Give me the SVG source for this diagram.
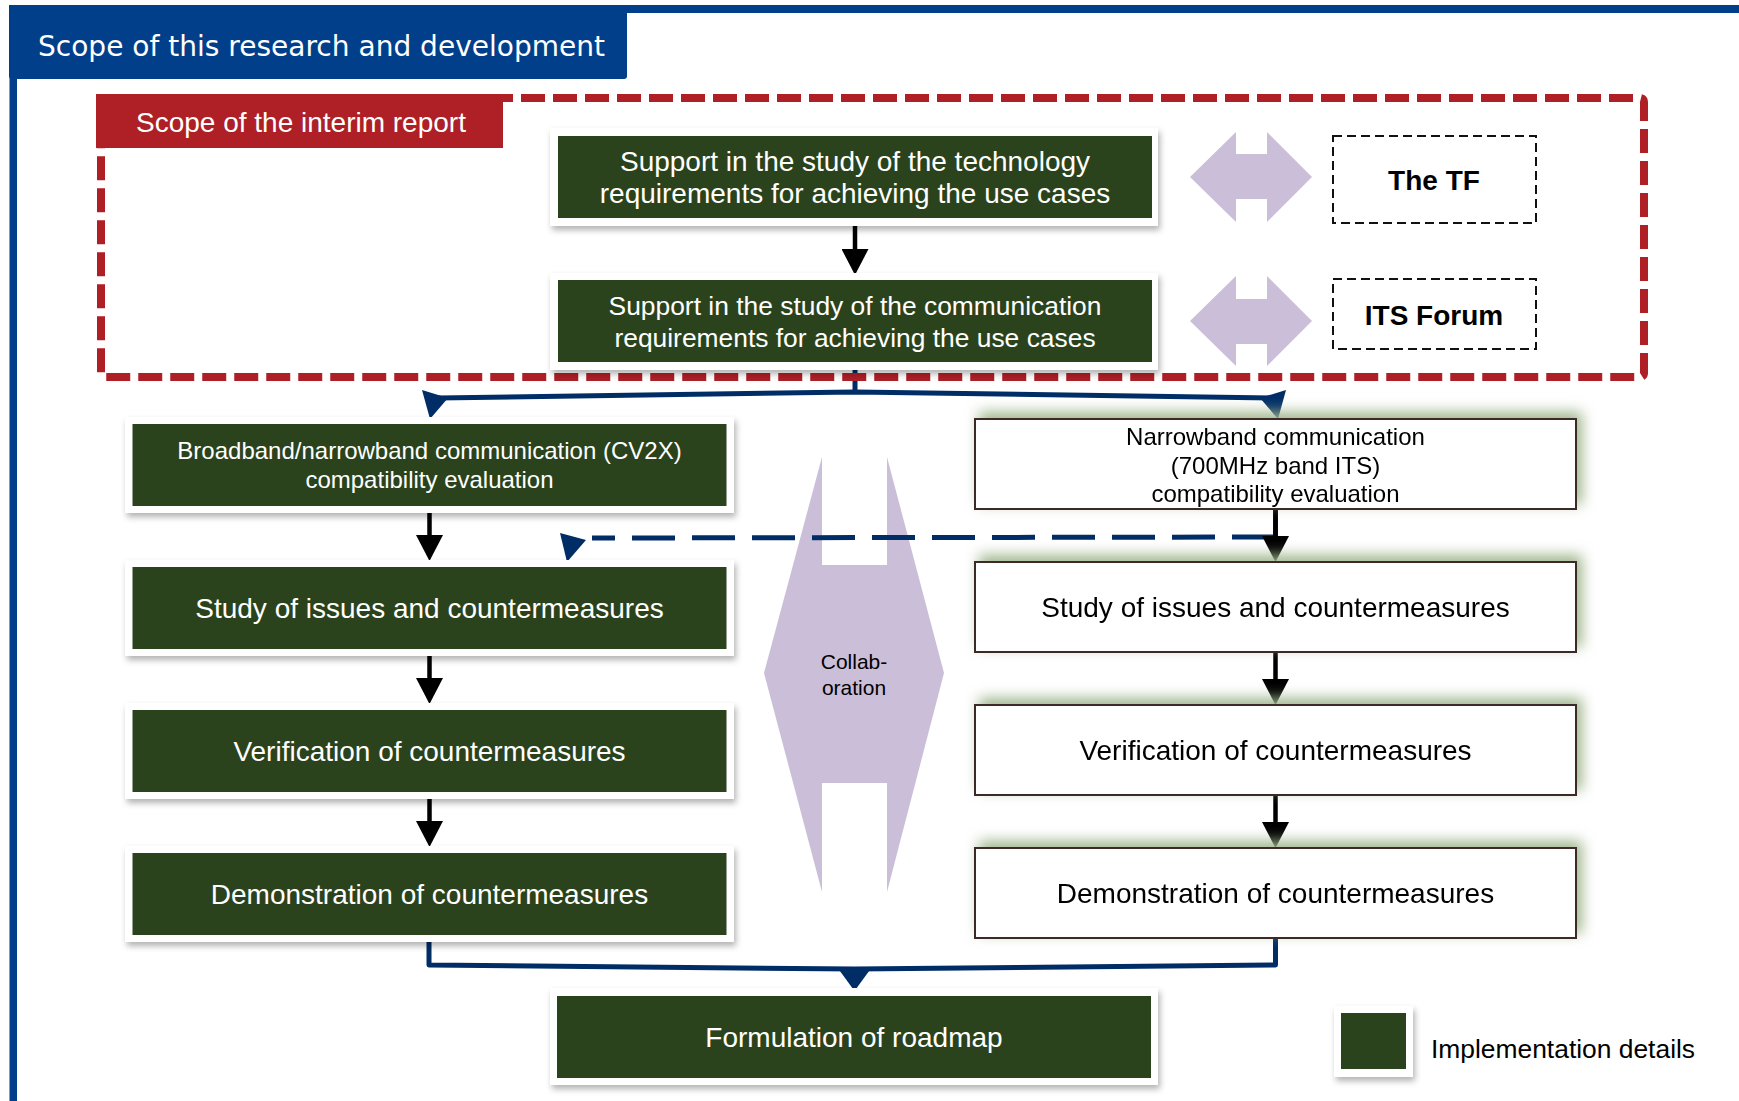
<svg xmlns="http://www.w3.org/2000/svg" width="1739" height="1101" viewBox="0 0 1739 1101">
<defs>
<style>
.frame{fill:#fff;filter:url(#sh)}
.g{fill:#2B431C}
.w{fill:#fff;stroke:#3a2a26;stroke-width:2}
.wt{font-family:"Liberation Sans",Arial,sans-serif;fill:#fff;text-anchor:middle}
.bt{font-family:"Liberation Sans",Arial,sans-serif;fill:#000;text-anchor:middle}
.f28{font-size:28px}
.f24{font-size:24px}
.blk{stroke:#000;stroke-width:4.5;fill:none;marker-end:url(#ah)}
.navy{stroke:#002D66;stroke-width:5;fill:none;stroke-linejoin:round}
.lav{fill:#CBBED8}
.dbox{fill:#fff;stroke:#111;stroke-width:2;stroke-dasharray:9 5}
</style>
<filter id="sh" x="-10%" y="-20%" width="120%" height="150%">
<feDropShadow dx="2" dy="4" stdDeviation="3" flood-color="#000" flood-opacity="0.3"/>
</filter>
<filter id="gl" x="-10%" y="-40%" width="125%" height="180%">
<feFlood flood-color="#9fb58c" result="c"/>
<feComposite in="c" in2="SourceAlpha" operator="in" result="s"/>
<feGaussianBlur in="s" stdDeviation="7" result="b"/>
<feOffset in="b" dx="5" dy="-6" result="o"/>
<feMerge><feMergeNode in="o"/><feMergeNode in="SourceGraphic"/></feMerge>
</filter>
<marker id="ah" viewBox="0 0 26 27" refX="0" refY="13.5" markerWidth="26" markerHeight="27" markerUnits="userSpaceOnUse" orient="auto">
<path d="M0,0 L26,13.5 L0,27 z" fill="#000"/>
</marker>
</defs>
<rect width="1739" height="1101" fill="#fff"/>

<g id="outer-frame">
<rect x="9" y="5" width="1730" height="8" fill="#023F8B"/>
<rect x="9.5" y="5" width="7.5" height="1096" fill="#023F8B"/>
<rect x="9" y="5" width="618" height="74" rx="3" fill="#023F8B"/>
<text x="38" y="56" font-family="DejaVu Sans, Verdana, sans-serif" font-size="28" fill="#fff" textLength="567" lengthAdjust="spacingAndGlyphs">Scope of this research and development</text>
</g>

<g id="collaboration">
<polygon class="lav" points="822,457 764,673 822,892 822,783 887,783 887,892 944,673 887,457 887,565 822,565"/>
<text class="bt" x="854" y="669" font-size="21">Collab-</text>
<text class="bt" x="854" y="695" font-size="21">oration</text>
</g>

<g id="connectors">
<line class="blk" x1="855" y1="222" x2="855" y2="249"/>
<polyline class="navy" points="855,363 855,393"/>
<path class="navy" d="M438,398 L855,392 L1272,398"/>
<polygon points="422,390 448,398 430,419" fill="#002D66"/>
<polygon points="1286,390 1260,398 1278,419" fill="#002D66"/>
<line class="blk" x1="429.5" y1="508" x2="429.5" y2="535"/>
<line class="blk" x1="429.5" y1="651" x2="429.5" y2="678"/>
<line class="blk" x1="429.5" y1="794" x2="429.5" y2="821"/>
<line class="navy" x1="1275.5" y1="509" x2="1275.5" y2="537"/>
<path class="navy" d="M1275,537 L592,538" stroke-dasharray="43 17"/>
<polygon points="560,533 586,540 567,562" fill="#002D66"/>
<line class="blk" x1="1275.5" y1="510" x2="1275.5" y2="536"/>
<line class="blk" x1="1275.5" y1="653" x2="1275.5" y2="679"/>
<line class="blk" x1="1275.5" y1="796" x2="1275.5" y2="822"/>
<path class="navy" d="M429,937 L429,965 L855,969 L1275.5,965 L1275.5,937"/>
<polygon points="837,967 872,967 854.5,991" fill="#002D66"/>
</g>

<g id="interim-scope">
<rect x="101" y="98" width="1543" height="279" rx="4" fill="none" stroke="#AE1F26" stroke-width="8" stroke-dasharray="24 8"/>
<rect x="96" y="94" width="407" height="54" fill="#AE1F26"/>
<text x="136" y="132" font-family="Liberation Sans, Arial, sans-serif" font-size="28" fill="#fff">Scope of the interim report</text>
</g>

<g id="tech-req">
<rect class="frame" x="550" y="128" width="608" height="98"/>
<rect class="g" x="558" y="136" width="594" height="82"/>
<text class="wt f28" x="855" y="171">Support in the study of the technology</text>
<text class="wt f28" x="855" y="203">requirements for achieving the use cases</text>
</g>

<g id="comm-req">
<rect class="frame" x="550" y="273" width="608" height="97"/>
<rect class="g" x="558" y="280" width="594" height="82"/>
<text class="wt" x="855" y="315" font-size="26.4">Support in the study of the communication</text>
<text class="wt" x="855" y="347" font-size="26.4">requirements for achieving the use cases</text>
</g>

<g id="tf-arrow"><polygon class="lav" points="1190,177 1236,132 1236,154 1267,154 1267,132 1312,177 1267,222 1267,199 1236,199 1236,222"/></g>
<g id="its-arrow"><polygon class="lav" points="1190,321 1236,276 1236,299 1267,299 1267,276 1312,321 1267,366 1267,344 1236,344 1236,366"/></g>

<g id="the-tf">
<rect class="dbox" x="1333" y="136" width="203" height="87"/>
<text class="bt" x="1434" y="190" font-size="28" font-weight="bold">The TF</text>
</g>
<g id="its-forum">
<rect class="dbox" x="1333" y="279" width="203" height="70"/>
<text class="bt" x="1434" y="325" font-size="28" font-weight="bold">ITS Forum</text>
</g>

<g id="left-eval">
<rect class="frame" x="125" y="417" width="609" height="96"/>
<rect class="g" x="132.5" y="424" width="594" height="82"/>
<text class="wt f24" x="429.5" y="459">Broadband/narrowband communication (CV2X)</text>
<text class="wt f24" x="429.5" y="488">compatibility evaluation</text>
</g>
<g id="left-study">
<rect class="frame" x="125" y="560" width="609" height="96"/>
<rect class="g" x="132.5" y="567" width="594" height="82"/>
<text class="wt f28" x="429.5" y="618">Study of issues and countermeasures</text>
</g>
<g id="left-verify">
<rect class="frame" x="125" y="703" width="609" height="96"/>
<rect class="g" x="132.5" y="710" width="594" height="82"/>
<text class="wt f28" x="429.5" y="761">Verification of countermeasures</text>
</g>
<g id="left-demo">
<rect class="frame" x="125" y="846" width="609" height="96"/>
<rect class="g" x="132.5" y="853" width="594" height="82"/>
<text class="wt f28" x="429.5" y="904">Demonstration of countermeasures</text>
</g>

<g id="right-eval" filter="url(#gl)">
<rect class="w" x="975" y="419" width="601" height="90"/>
<text class="bt f24" x="1275.5" y="445">Narrowband communication</text>
<text class="bt f24" x="1275.5" y="474">(700MHz band ITS)</text>
<text class="bt f24" x="1275.5" y="502">compatibility evaluation</text>
</g>
<g id="right-study" filter="url(#gl)">
<rect class="w" x="975" y="562" width="601" height="90"/>
<text class="bt f28" x="1275.5" y="617">Study of issues and countermeasures</text>
</g>
<g id="right-verify" filter="url(#gl)">
<rect class="w" x="975" y="705" width="601" height="90"/>
<text class="bt f28" x="1275.5" y="760">Verification of countermeasures</text>
</g>
<g id="right-demo" filter="url(#gl)">
<rect class="w" x="975" y="848" width="601" height="90"/>
<text class="bt f28" x="1275.5" y="903">Demonstration of countermeasures</text>
</g>

<g id="roadmap">
<rect class="frame" x="550" y="988" width="608" height="97"/>
<rect class="g" x="557" y="996" width="594" height="82"/>
<text class="wt f28" x="854" y="1047">Formulation of roadmap</text>
</g>

<g id="legend">
<rect class="frame" x="1334" y="1006" width="79" height="71"/>
<rect class="g" x="1341" y="1013" width="65" height="56"/>
<text x="1431" y="1058" font-family="Liberation Sans, Arial, sans-serif" font-size="26.4" fill="#000">Implementation details</text>
</g>
</svg>
